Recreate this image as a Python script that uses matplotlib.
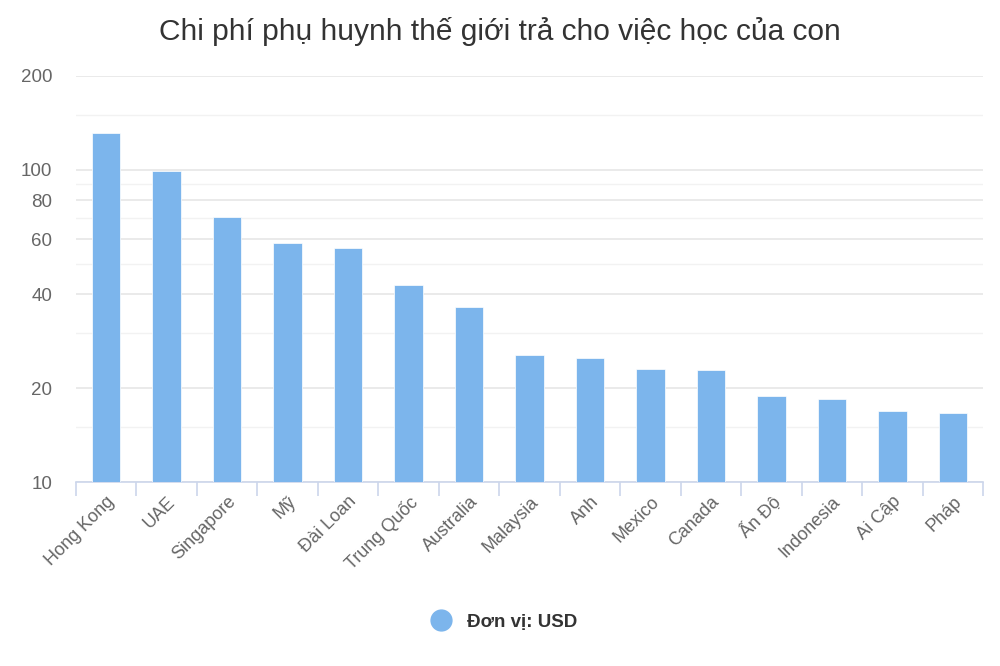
import matplotlib
matplotlib.use("Agg")
import matplotlib.pyplot as plt
from matplotlib.ticker import FixedLocator, NullFormatter, FixedFormatter
from matplotlib.lines import Line2D

plt.rcParams['font.family'] = ['Liberation Sans', 'DejaVu Sans']

title = "Chi phí phụ huynh thế giới trả cho việc học của con"
categories = ["Hong Kong", "UAE", "Singapore", "Mỹ", "Đài Loan", "Trung Quốc",
              "Australia", "Malaysia", "Anh", "Mexico", "Canada", "Ấn Độ",
              "Indonesia", "Ai Cập", "Pháp"]
values = [131.2, 99.4, 70.9, 58.5, 56.4, 42.9, 36.4, 25.5, 24.9, 23.0, 22.8,
          18.9, 18.4, 16.9, 16.7]
series_name = "Đơn vị: USD"
major_ticks = [10, 20, 40, 60, 80, 100, 200]
minor_ticks = [15, 30, 50, 70, 90, 150]

bar_color = "#7cb5ec"
text_color = "#666666"

fig = plt.figure(figsize=(10, 6.66), dpi=100)
ax = fig.add_axes([0.076, 0.276, 0.907, 0.61])

x = list(range(len(categories)))
ax.bar(x, values, width=0.47, color=bar_color, edgecolor="white", linewidth=0.5,
       zorder=3, bottom=0)
ax.set_yscale("log")
ax.set_ylim(10, 200)
ax.set_xlim(-0.5, len(categories) - 0.5)

ax.yaxis.set_major_locator(FixedLocator(major_ticks))
ax.yaxis.set_major_formatter(FixedFormatter([str(t) for t in major_ticks]))
ax.yaxis.set_minor_locator(FixedLocator(minor_ticks))
ax.yaxis.set_minor_formatter(NullFormatter())
ax.grid(axis="y", which="major", color="#e6e6e6", linewidth=1.2, zorder=0)
ax.grid(axis="y", which="minor", color="#f2f2f2", linewidth=1.0, zorder=0)
ax.tick_params(axis="y", which="both", length=0, labelsize=13.5, labelcolor=text_color, pad=17)

for s in ["top", "right", "left"]:
    ax.spines[s].set_visible(False)
ax.spines["bottom"].set_color("#ccd6eb")
ax.spines["bottom"].set_linewidth(1.2)

ax.set_xticks(x)
ax.set_xticklabels(categories, rotation=45, ha="right", rotation_mode="anchor",
                   fontsize=13, color=text_color)
ax.tick_params(axis="x", which="major", length=0, pad=8)
ax.set_xticks([i - 0.5 for i in range(len(categories) + 1)], minor=True)
ax.tick_params(axis="x", which="minor", length=10, color="#ccd6eb", width=1.2)

fig.text(0.5, 0.953, title, ha="center", va="center", fontsize=21.5, color="#333333")

handle = Line2D([], [], marker="o", linestyle="none", markersize=15,
                markerfacecolor=bar_color, markeredgecolor=bar_color)
fig.legend([handle], [series_name], loc="center", bbox_to_anchor=(0.5, 0.066),
           frameon=False, prop={"size": 13.5, "weight": "bold"},
           labelcolor="#333333", handletextpad=0.4)

fig.savefig("out.png", dpi=100, facecolor="white")
